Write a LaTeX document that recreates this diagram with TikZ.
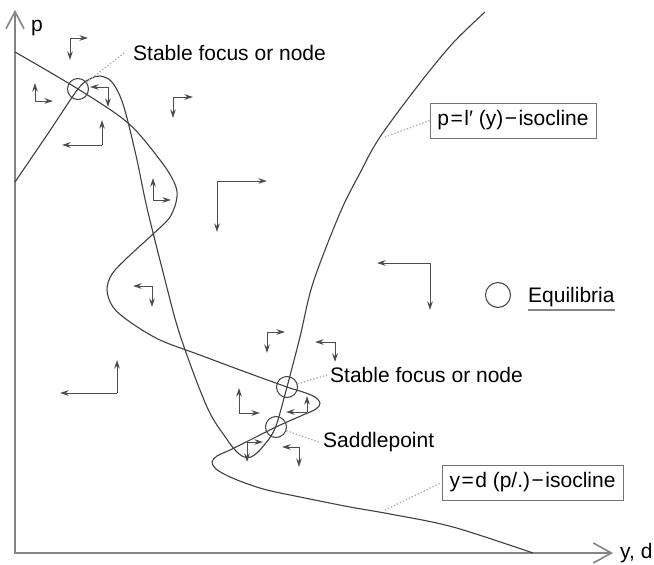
\documentclass[tikz,border=0pt]{standalone}
\usepackage{fontspec}
\setmainfont{Liberation Sans}
\usetikzlibrary{arrows.meta}
\definecolor{curvegray}{gray}{0.25}
\definecolor{axisgray}{gray}{0.52}
\definecolor{arrowgray}{gray}{0.3}
\definecolor{dotgray}{gray}{0.68}
\definecolor{boxgray}{gray}{0.45}
\tikzset{
  isocline/.style={draw=curvegray, line width=1.1pt},
  axisline/.style={draw=axisgray, line width=1.6pt,
    {Straight Barb[length=17pt,width=18pt]}-{Straight Barb[length=18pt,width=20pt]}},
  flow/.style={draw=arrowgray, line width=1pt, -{Stealth[length=8.5pt,width=5.5pt]}},
  eqm/.style={circle, draw=curvegray, line width=1pt, minimum size=21pt, inner sep=0pt},
  leader/.style={draw=dotgray, line width=1.3pt, dotted},
  tag/.style={inner sep=0pt},
  isobox/.style={draw=boxgray, line width=1pt, inner sep=4pt, minimum height=35pt},
  pics/turn/.style 2 args={code={
    \draw[flow] (0,0) -- (#1,0);
    \draw[flow] (0,0) -- (0,#2);
  }}
}
\newcommand{\tightop}[1]{\kern1.5pt#1\kern1.5pt}
\begin{document}
\begin{tikzpicture}[x=1pt, y=-1pt, font=\fontsize{21}{25}\selectfont]
\useasboundingbox (0,0) rectangle (654,565);
\fill[white] (0,0) rectangle (654,565);

% axes
\coordinate (origin) at (15,553);
\coordinate (ptip) at (15,10);
\coordinate (ytip) at (613,553);
\draw[axisline] (ptip) -- (origin) -- (ytip);
\node[tag, anchor=base west] (plabel) at (31,31) {p};
\node[tag, anchor=west] (ylabel) at (620,553) {y, d};

% y = d(p/.) isocline
\draw[isocline] plot[smooth, tension=0.55] coordinates {
  (15,52) (78,89) (128,123) (160,160) (174,182) (177,197) (170,217)
  (152,235) (128,257) (112,274) (107,290) (113,307) (130,322) (160,340)
  (200,355) (240,370) (287,387) (303,392) (315,397) (320,403) (316,409)
  (303,415) (287,422) (276,427) (250,440) (230,450) (217,456) (212,462)
  (216,469) (228,476) (245,483) (267,490) (300,497) (350,507) (390,514)
  (453,527) (533,553)};

% p = l'(y) isocline
\draw[isocline] plot[smooth, tension=0.55] coordinates {
  (15,182) (47,135) (78,89) (90,79) (100,76) (111,81) (120,96) (127,118)
  (137,160) (147,208) (163,272) (180,335) (207,407) (226,438) (236,451)
  (244,457) (251,457) (258,452) (265,444) (271,436) (277,423) (287,387)
  (300,337) (313,283) (340,213) (360,173) (380,137) (420,83) (453,43)
  (485,12)};

% equilibria
\node[eqm] (eqtop) at (78,89) {};
\node[eqm] (eqstable) at (287,387) {};
\node[eqm] (eqsaddle) at (276,427) {};

% labels of the equilibria
\node[tag, anchor=west] (stabletop) at (133,53) {Stable focus or node};
\node[tag, anchor=west] (stablelow) at (330,375) {Stable focus or node};
\node[tag, anchor=base west] (saddle) at (323,447) {Saddlepoint};
\draw[leader] (eqtop) -- ([xshift=-9pt]stabletop.west);
\draw[leader] (eqstable) -- ([xshift=-3pt]stablelow.west);
\draw[leader] (eqsaddle) -- ([xshift=-3pt,yshift=-1pt]saddle.west);

% isocline labels
\node[isobox, minimum width=166pt] (lbox) at (513,120.5) {p\tightop{=}l′ (y)\tightop{−}isocline};
\node[isobox, minimum width=181pt] (dbox) at (532.5,482.5) {y\tightop{=}d (p/.)\tightop{−}isocline};
\coordinate (lfoot) at (385,137);
\coordinate (dfoot) at (385,510);
\draw[leader] (lfoot) -- (lbox.west);
\draw[leader] (dfoot) -- (dbox.west);

% legend
\node[eqm, minimum size=25pt] (legcircle) at (498,295) {};
\node[tag, anchor=base west] (legtext) at (528,302) {Equilibria};
\draw[draw=axisgray, line width=1.2pt] ([yshift=-8pt]legtext.base west) -- ([yshift=-8pt]legtext.base east);

% directions of motion
\pic at (70,38) {turn={18}{22}};
\pic at (35,101) {turn={18}{-18}};
\pic at (108,87) {turn={-18}{20}};
\pic at (102,145) {turn={-40}{-25}};
\pic at (173,97) {turn={20}{21}};
\pic at (153,200) {turn={18}{-22}};
\pic at (217,181) {turn={50}{51}};
\pic at (430,263) {turn={-53}{47}};
\pic at (152,286) {turn={-19}{21}};
\pic at (117,393) {turn={-57}{-33}};
\pic at (267,332) {turn={18}{21}};
\pic at (335,342) {turn={-20}{20}};
\pic at (239,413) {turn={21}{-25}};
\pic at (307,412) {turn={-21}{-16}};
\pic at (247,442) {turn={16}{20}};
\pic at (299,447) {turn={-17}{20}};
\end{tikzpicture}
\end{document}
